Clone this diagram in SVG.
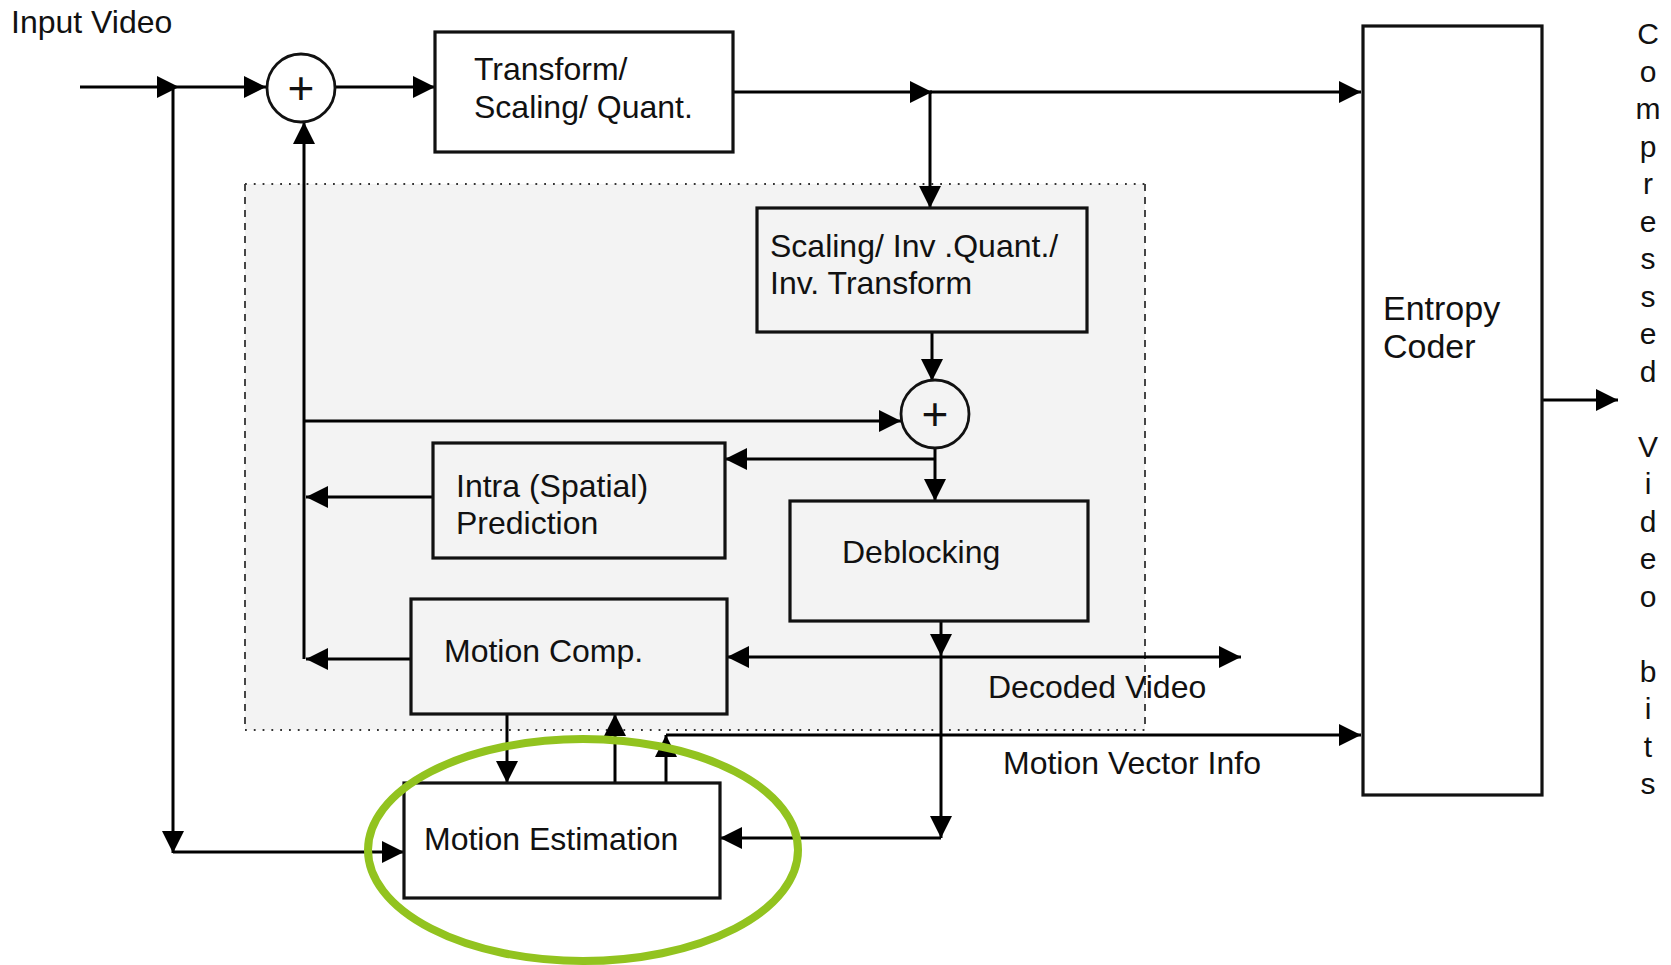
<svg xmlns="http://www.w3.org/2000/svg" width="1671" height="965" viewBox="0 0 1671 965">
<defs>
<marker id="ah" markerUnits="userSpaceOnUse" markerWidth="22" markerHeight="22" refX="22" refY="11" orient="auto">
<path d="M0,0 L22,11 L0,22 z" fill="#000"/>
</marker>
<style>
.box{stroke:#111;stroke-width:3.2}
.w{fill:#fff}
.g{fill:#f3f3f3}
.t{font-family:"Liberation Sans",Arial,sans-serif;font-size:32px;fill:#111}
.e{font-family:"Liberation Sans",Arial,sans-serif;font-size:34px;fill:#111}
.v{font-family:"Liberation Sans",Arial,sans-serif;font-size:30px;fill:#111}
.p{font-family:"Liberation Sans",Arial,sans-serif;font-size:46px;fill:#111}
.c{fill:none;stroke:#000;stroke-width:3}
.a{marker-end:url(#ah)}
.sum{stroke:#111;stroke-width:2.8}
</style>
</defs>
<rect width="1671" height="965" fill="#fff"/>
<g id="region">
<rect x="245" y="184" width="900" height="546" fill="#f3f3f3"/>
<path d="M245,184 H1145 M245,730 H1145" stroke="#333" stroke-width="1.8" stroke-dasharray="1.8 7" fill="none"/>
<path d="M245,184 V730 M1145,184 V730" stroke="#333" stroke-width="1.8" stroke-dasharray="7 6" fill="none"/>
</g>
<text class="t" x="11" y="33">Input Video</text>
<g id="connectors">
<path class="c a" d="M80,87 H179"/>
<path class="c a" d="M179,87 H266"/>
<path class="c a" d="M173,87 V853"/>
<path class="c a" d="M173,852 H404"/>
<path class="c a" d="M335,87 H435"/>
<path class="c a" d="M733,92 H932"/>
<path class="c a" d="M930,92 H1361"/>
<path class="c a" d="M930,92 V208"/>
<path class="c a" d="M932,332 V381"/>
<path class="c a" d="M304,659 V122"/>
<path class="c a" d="M304,421 H901"/>
<path class="c a" d="M935,448 V501"/>
<path class="c a" d="M935,459 H725"/>
<path class="c a" d="M433,497 H306"/>
<path class="c a" d="M411,659 H306"/>
<path class="c a" d="M941,621 V656"/>
<path class="c a" d="M941,657 H727"/>
<path class="c a" d="M941,657 H1241"/>
<path class="c a" d="M941,657 V838"/>
<path class="c a" d="M941,838 H720"/>
<path class="c a" d="M507,714 V783"/>
<path class="c a" d="M615,783 V714"/>
<path class="c a" d="M666,783 V735"/>
<path class="c a" d="M666,735 H1361"/>
<path class="c a" d="M1542,400 H1618"/>
</g>
<g id="sum1">
<circle class="sum w" cx="301" cy="88" r="34"/>
<text class="p" x="301" y="104" text-anchor="middle">+</text>
</g>
<g id="transform">
<rect class="box w" x="435" y="32" width="298" height="120"/>
<text class="t" x="474" y="80">Transform/</text>
<text class="t" x="474" y="118">Scaling/ Quant.</text>
</g>
<g id="invtransform">
<rect class="box g" x="757" y="208" width="330" height="124"/>
<text class="t" x="770" y="257">Scaling/ Inv .Quant./</text>
<text class="t" x="770" y="294">Inv. Transform</text>
</g>
<g id="sum2">
<circle class="sum g" cx="935" cy="414" r="34"/>
<text class="p" x="935" y="430" text-anchor="middle">+</text>
</g>
<g id="intra">
<rect class="box g" x="433" y="443" width="292" height="115"/>
<text class="t" x="456" y="497">Intra (Spatial)</text>
<text class="t" x="456" y="534">Prediction</text>
</g>
<g id="deblocking">
<rect class="box g" x="790" y="501" width="298" height="120"/>
<text class="t" x="842" y="563">Deblocking</text>
</g>
<g id="motioncomp">
<rect class="box g" x="411" y="599" width="316" height="115"/>
<text class="t" x="444" y="662">Motion Comp.</text>
</g>
<g id="motionest">
<rect class="box w" x="404" y="783" width="316" height="115"/>
<text class="t" x="424" y="850">Motion Estimation</text>
</g>
<g id="entropy">
<rect class="box w" x="1363" y="26" width="179" height="769"/>
<text class="e" x="1383" y="320">Entropy</text>
<text class="e" x="1383" y="358">Coder</text>
</g>
<g id="labels">
<text class="t" x="988" y="698">Decoded Video</text>
<text class="t" x="1003" y="774">Motion Vector Info</text>
<text class="v" text-anchor="middle"><tspan x="1648" y="44">C</tspan><tspan x="1648" dy="37.5">o</tspan><tspan x="1648" dy="37.5">m</tspan><tspan x="1648" dy="37.5">p</tspan><tspan x="1648" dy="37.5">r</tspan><tspan x="1648" dy="37.5">e</tspan><tspan x="1648" dy="37.5">s</tspan><tspan x="1648" dy="37.5">s</tspan><tspan x="1648" dy="37.5">e</tspan><tspan x="1648" dy="37.5">d</tspan><tspan x="1648" dy="75">V</tspan><tspan x="1648" dy="37.5">i</tspan><tspan x="1648" dy="37.5">d</tspan><tspan x="1648" dy="37.5">e</tspan><tspan x="1648" dy="37.5">o</tspan><tspan x="1648" dy="75">b</tspan><tspan x="1648" dy="37.5">i</tspan><tspan x="1648" dy="37.5">t</tspan><tspan x="1648" dy="37.5">s</tspan></text>
</g>
<ellipse id="highlight" cx="583" cy="850" rx="215" ry="111" fill="none" stroke="#92c31f" stroke-width="8"/>
</svg>
